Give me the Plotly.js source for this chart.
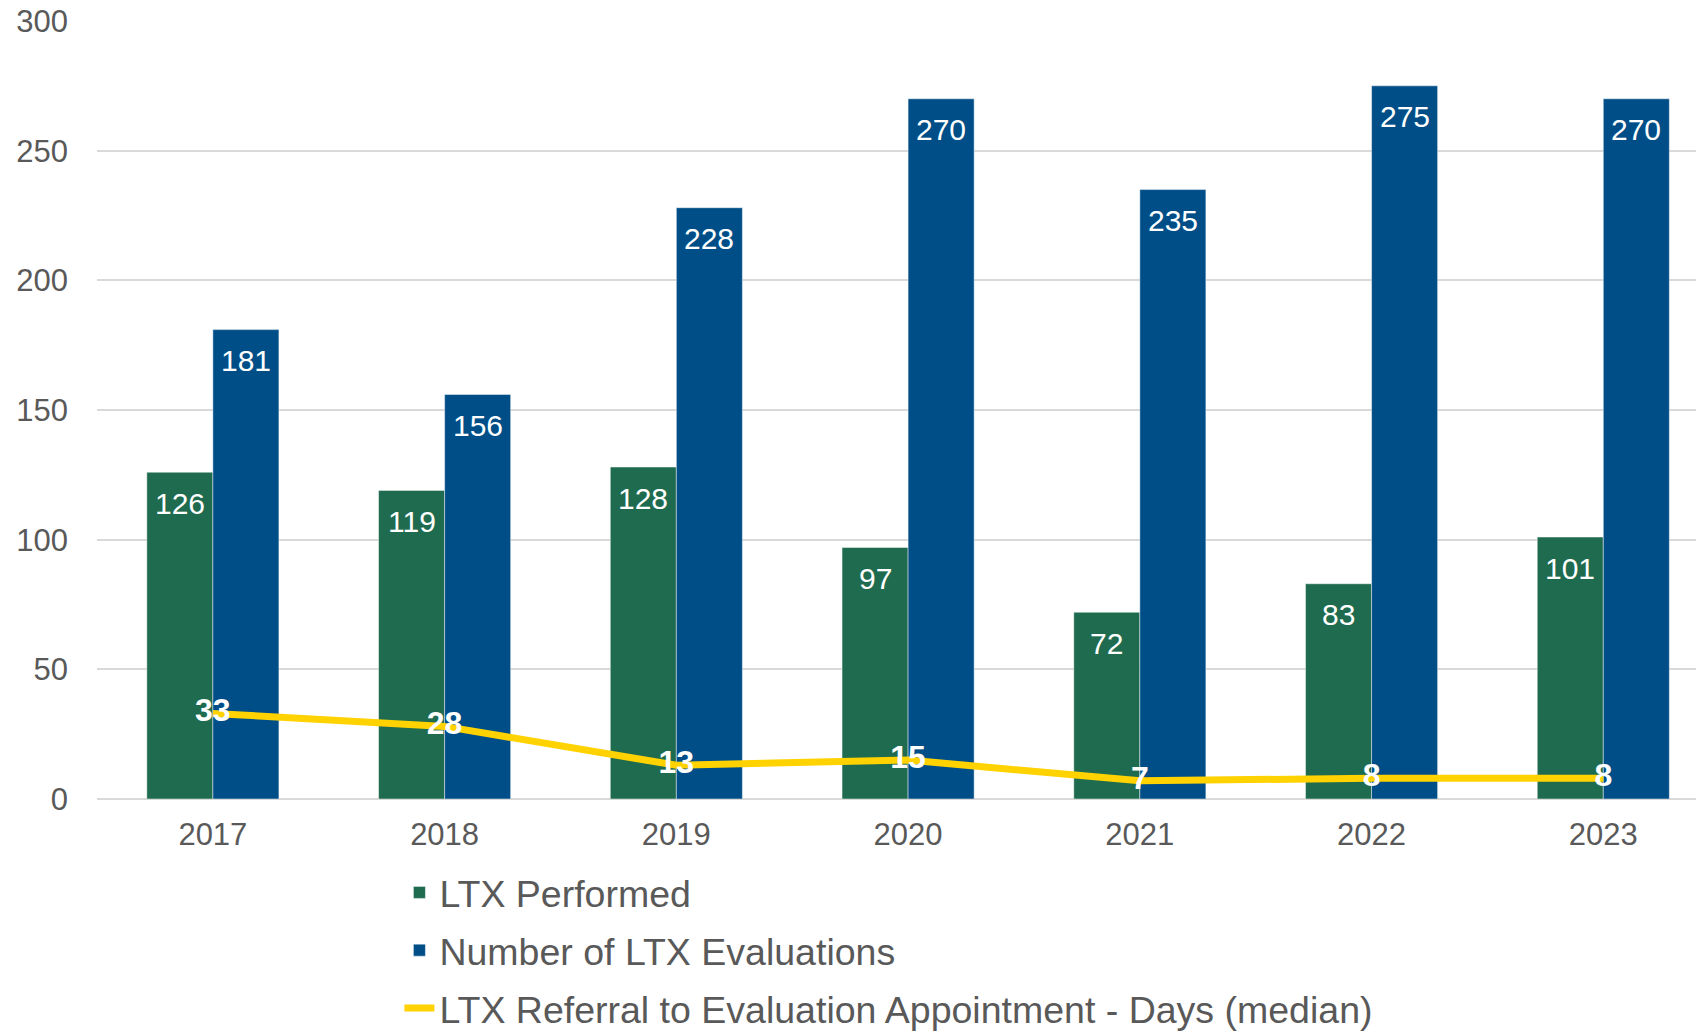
<!DOCTYPE html>
<html>
<head>
<meta charset="utf-8">
<script src="https://cdn.plot.ly/plotly-3.0.1.min.js"></script>
<style>
html, body { margin: 0; padding: 0; background: #ffffff; overflow: hidden; }
#chart { width: 1696px; height: 1032px; }
</style>
</head>
<body>
<div id="chart"></div>
<script>
const years = ["2017", "2018", "2019", "2020", "2021", "2022", "2023"];
const ltxPerformed = [126, 119, 128, 97, 72, 83, 101];
const ltxEvaluations = [181, 156, 228, 270, 235, 275, 270];
const referralDays = [33, 28, 13, 15, 7, 8, 8];
const yTicks = [0, 50, 100, 150, 200, 250, 300];

const FONT = '"Liberation Sans", Arial, sans-serif';
const GREEN = '#1F6B4F';
const BLUE = '#004E87';
const YELLOW = '#FFD200';

const traces = [
  {
    type: 'bar', name: 'LTX Performed', x: years, y: ltxPerformed, legendgroup: 'a',
    marker: { color: GREEN, line: { color: 'rgba(255,255,255,0.45)', width: 1 } },
    hoverinfo: 'skip'
  },
  {
    type: 'bar', name: 'Number of LTX Evaluations', x: years, y: ltxEvaluations, legendgroup: 'b',
    marker: { color: BLUE, line: { color: 'rgba(255,255,255,0.45)', width: 1 } },
    hoverinfo: 'skip'
  },
  {
    type: 'scatter', mode: 'lines+text', name: 'LTX Referral to Evaluation Appointment - Days (median)',
    x: years, y: referralDays, legendgroup: 'c',
    line: { color: YELLOW, width: 7 },
    text: referralDays.map(String), textposition: 'middle center',
    textfont: { family: FONT, size: 32, color: '#ffffff', weight: 'bold' },
    hoverinfo: 'skip'
  }
];

const annotations = [];
years.forEach((yr, i) => {
  annotations.push({
    x: i, y: ltxPerformed[i], xref: 'x', yref: 'y', text: String(ltxPerformed[i]),
    showarrow: false, xshift: -33, yshift: -31, xanchor: 'center', yanchor: 'middle',
    font: { family: FONT, size: 30, color: '#ffffff' }
  });
  annotations.push({
    x: i, y: ltxEvaluations[i], xref: 'x', yref: 'y', text: String(ltxEvaluations[i]),
    showarrow: false, xshift: 33, yshift: -31, xanchor: 'center', yanchor: 'middle',
    font: { family: FONT, size: 30, color: '#ffffff' }
  });
});

const layout = {
  width: 1696, height: 1032,
  margin: { l: 97, r: 0, t: 21, b: 233, autoexpand: false },
  paper_bgcolor: '#ffffff', plot_bgcolor: '#ffffff',
  font: { family: FONT, color: '#595959' },
  barmode: 'group', bargap: 0.43, bargroupgap: 0,
  showlegend: true,
  legend: {
    orientation: 'v', xref: 'container', yref: 'container',
    x: 0.2355, y: 0.1652, xanchor: 'left', yanchor: 'top',
    font: { family: FONT, size: 37.5, color: '#595959' },
    traceorder: 'grouped', tracegroupgap: 6, bgcolor: 'rgba(0,0,0,0)'
  },
  xaxis: {
    type: 'category', range: [-0.5, 6.4],
    showgrid: false, zeroline: false, showline: false, ticks: '',
    tickfont: { family: FONT, size: 31, color: '#595959' },
    tickangle: 0,
    ticklabelstandoff: 14
  },
  yaxis: {
    range: [0, 300], tickvals: yTicks, ticktext: yTicks.map(String),
    showgrid: true, gridcolor: '#d9d9d9', gridwidth: 2,
    zeroline: true, zerolinecolor: '#d9d9d9', zerolinewidth: 2,
    showline: false, ticks: '',
    tickfont: { family: FONT, size: 31, color: '#595959' },
    ticklabelstandoff: 28
  },
  annotations: annotations
};

Plotly.newPlot('chart', traces, layout, { displayModeBar: false, staticPlot: true });
</script>
</body>
</html>
